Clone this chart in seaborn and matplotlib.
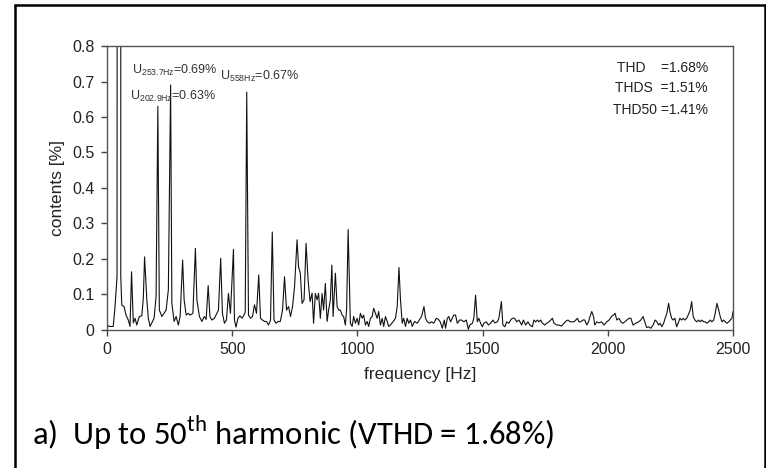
import matplotlib
matplotlib.use("Agg")
import matplotlib.pyplot as plt
import seaborn as sns
import pandas as pd
from matplotlib.lines import Line2D

# -------- DATA --------
freq_hz = [
    0, 8, 18, 25, 32, 40, 45, 50, 55, 59, 68, 76, 85, 92, 98, 105, 112, 119, 129, 139,
    145, 150, 159, 165, 172, 179, 188, 196, 203, 209, 219, 228, 236, 245, 254, 259, 268, 276, 285, 292,
    302, 308, 316, 325, 332, 343, 353, 359, 369, 379, 388, 396, 404, 411, 419, 429, 439, 445, 454, 461,
    469, 477, 485, 493, 505, 509, 515, 523, 531, 539, 547, 552, 558, 565, 573, 581, 589, 597, 606, 613,
    621, 629, 637, 645, 653, 660, 667, 675, 683, 692, 701, 709, 717, 725, 733, 741, 749, 759, 765, 772,
    779, 787, 795, 803, 811, 819, 825, 832, 839, 845, 852, 859, 865, 872, 879, 885, 892, 898, 903, 912,
    919, 925, 932, 939, 945, 952, 957, 963, 972, 979, 985, 992, 999, 1005, 1012, 1019, 1025, 1032, 1039, 1045,
    1052, 1059, 1065, 1072, 1079, 1085, 1092, 1099, 1105, 1112, 1119, 1125, 1132, 1143, 1152, 1159, 1166, 1172, 1179, 1185,
    1192, 1199, 1205, 1212, 1219, 1228, 1239, 1247, 1256, 1266, 1272, 1279, 1288, 1296, 1305, 1315, 1323, 1331, 1339, 1347,
    1352, 1359, 1365, 1372, 1379, 1385, 1392, 1399, 1408, 1416, 1425, 1435, 1443, 1449, 1459, 1465, 1472, 1479, 1485, 1492,
    1499, 1505, 1515, 1523, 1532, 1541, 1549, 1559, 1565, 1575, 1581, 1589, 1596, 1605, 1612, 1619, 1628, 1636, 1645, 1656,
    1663, 1672, 1681, 1689, 1699, 1705, 1712, 1719, 1725, 1732, 1739, 1748, 1756, 1765, 1772, 1779, 1785, 1796, 1805, 1815,
    1825, 1835, 1841, 1849, 1859, 1865, 1872, 1879, 1885, 1892, 1900, 1908, 1916, 1923, 1929, 1936, 1943, 1948, 1956, 1965,
    1975, 1985, 1996, 2005, 2015, 2023, 2029, 2036, 2045, 2052, 2060, 2068, 2076, 2085, 2092, 2101, 2112, 2123, 2132, 2141,
    2148, 2155, 2163, 2172, 2181, 2189, 2196, 2203, 2209, 2216, 2223, 2229, 2236, 2243, 2248, 2255, 2261, 2268, 2275, 2281,
    2288, 2295, 2301, 2308, 2315, 2321, 2329, 2335, 2341, 2348, 2355, 2363, 2369, 2376, 2383, 2389, 2396, 2403, 2409, 2416,
    2423, 2429, 2436, 2443, 2449, 2456, 2463, 2469, 2476, 2483, 2489, 2496, 2500,
]
contents_pct = [
    0.015, 0.01, 0.01, 0.01, 0.066, 0.15, 8.0, 100.0, 0.15, 0.07, 0.066, 0.042, 0.028, 0.01, 0.164, 0.02, 0.033, 0.014, 0.038, 0.04,
    0.09, 0.206, 0.085, 0.033, 0.01, 0.02, 0.033, 0.094, 0.63, 0.056, 0.038, 0.047, 0.056, 0.113, 0.69, 0.075, 0.024, 0.038, 0.014, 0.038,
    0.197, 0.085, 0.042, 0.047, 0.042, 0.047, 0.23, 0.085, 0.038, 0.024, 0.038, 0.03, 0.125, 0.038, 0.028, 0.033, 0.047, 0.056, 0.202, 0.047,
    0.019, 0.028, 0.103, 0.047, 0.227, 0.028, 0.008, 0.033, 0.04, 0.033, 0.042, 0.05, 0.67, 0.042, 0.033, 0.038, 0.071, 0.047, 0.155, 0.033,
    0.028, 0.024, 0.024, 0.014, 0.028, 0.276, 0.028, 0.019, 0.024, 0.024, 0.056, 0.15, 0.056, 0.066, 0.038, 0.066, 0.122, 0.254, 0.178, 0.16,
    0.075, 0.085, 0.244, 0.141, 0.08, 0.104, 0.019, 0.103, 0.085, 0.103, 0.033, 0.103, 0.056, 0.131, 0.024, 0.056, 0.085, 0.183, 0.038, 0.16,
    0.066, 0.056, 0.056, 0.042, 0.038, 0.014, 0.06, 0.283, 0.019, 0.01, 0.038, 0.019, 0.033, 0.014, 0.047, 0.033, 0.042, 0.014, 0.024, 0.01,
    0.033, 0.038, 0.061, 0.047, 0.033, 0.052, 0.014, 0.033, 0.01, 0.038, 0.024, 0.01, 0.014, 0.024, 0.033, 0.066, 0.176, 0.085, 0.019, 0.033,
    0.01, 0.033, 0.019, 0.028, 0.01, 0.024, 0.019, 0.028, 0.038, 0.066, 0.033, 0.023, 0.019, 0.023, 0.019, 0.033, 0.03, 0.023, 0.005, 0.028,
    0.005, 0.033, 0.038, 0.023, 0.033, 0.042, 0.042, 0.019, 0.028, 0.028, 0.023, 0.028, 0.002, 0.014, 0.019, 0.033, 0.098, 0.023, 0.033, 0.019,
    0.009, 0.019, 0.023, 0.014, 0.019, 0.028, 0.02, 0.023, 0.033, 0.08, 0.014, 0.009, 0.023, 0.019, 0.028, 0.033, 0.033, 0.023, 0.028, 0.014,
    0.028, 0.014, 0.023, 0.014, 0.009, 0.028, 0.023, 0.028, 0.023, 0.028, 0.019, 0.014, 0.019, 0.023, 0.028, 0.033, 0.019, 0.014, 0.014, 0.011,
    0.019, 0.026, 0.028, 0.023, 0.023, 0.023, 0.028, 0.033, 0.023, 0.023, 0.028, 0.028, 0.014, 0.023, 0.038, 0.052, 0.038, 0.014, 0.023, 0.02,
    0.023, 0.014, 0.023, 0.028, 0.038, 0.042, 0.047, 0.028, 0.033, 0.023, 0.019, 0.023, 0.028, 0.033, 0.033, 0.014, 0.019, 0.023, 0.028, 0.038,
    0.023, 0.007, 0.009, 0.005, 0.014, 0.028, 0.023, 0.014, 0.019, 0.009, 0.019, 0.033, 0.047, 0.075, 0.052, 0.033, 0.028, 0.033, 0.009, 0.019,
    0.033, 0.028, 0.033, 0.028, 0.033, 0.042, 0.056, 0.08, 0.038, 0.028, 0.023, 0.028, 0.023, 0.028, 0.023, 0.023, 0.019, 0.023, 0.028, 0.023,
    0.028, 0.047, 0.075, 0.056, 0.038, 0.023, 0.028, 0.023, 0.019, 0.023, 0.028, 0.033, 0.052,
]

x_ticks = [0, 500, 1000, 1500, 2000, 2500]
y_ticks = [0, 0.1, 0.2, 0.3, 0.4, 0.5, 0.6, 0.7, 0.8]
y_tick_labels = ["0", "0.1", "0.2", "0.3", "0.4", "0.5", "0.6", "0.7", "0.8"]

# peak annotations: (text, x in Hz, y in %)
peak_labels = [
    (r"U$_{\mathregular{253.7Hz}}$=0.69%", 100, 0.732),
    (r"U$_{\mathregular{202.9Hz}}$=0.63%", 92, 0.659),
    (r"U$_{\mathregular{558Hz}}$=0.67%", 452, 0.713),
]
thd_labels = ["THD    =1.68%", "THDS  =1.51%", "THD50 =1.41%"]
thd_y = [0.738, 0.682, 0.62]

caption = r"a)  Up to 50$^{\mathregular{th}}$ harmonic (VTHD = 1.68%)"

df = pd.DataFrame({"frequency": freq_hz, "contents": contents_pct})

# -------- PLOT --------
sns.set_style("ticks")
plt.rcParams["font.family"] = ["Liberation Sans", "DejaVu Sans"]

fig = plt.figure(figsize=(7.66, 4.68), dpi=100)
ax = fig.add_axes([0.1397, 0.2949, 0.8172, 0.6068])

sns.lineplot(data=df, x="frequency", y="contents", estimator=None, sort=False,
             color="#111111", linewidth=0.8, ax=ax)

ax.set_xlim(0, 2500)
ax.set_ylim(0, 0.8)
ax.set_xticks(x_ticks)
ax.set_yticks(y_ticks)
ax.set_yticklabels(y_tick_labels)
ax.tick_params(direction="out", length=4.5, width=1, color="#444444",
               labelsize=11.5, labelcolor="#222222", pad=4.5)
for sp in ax.spines.values():
    sp.set_color("#555555")
    sp.set_linewidth(1.0)

ax.set_xlabel("frequency [Hz]", fontsize=12.5, color="#222222", labelpad=7)
ax.set_ylabel("contents [%]", fontsize=12.5, color="#222222", labelpad=5)

for txt, xx, yy in peak_labels:
    ax.text(xx, yy, txt, fontsize=9, color="#333333", ha="left", va="center")

for txt, yy in zip(thd_labels, thd_y):
    ax.text(2400, yy, txt, fontsize=10, color="#222222", ha="right", va="center")

fig.text(32 / 766, 1 - 433 / 468, caption, fontsize=23.5, color="black",
         family=["Carlito", "Lato", "DejaVu Sans"], ha="left", va="center")

# outer frame (no bottom edge, as in the reference)
top = 1 - 5 / 468
for xs, ys in [([15 / 766, 15 / 766], [0, top]),
               ([15 / 766, 765 / 766], [top, top]),
               ([765 / 766, 765 / 766], [top, 0])]:
    fig.add_artist(Line2D(xs, ys, transform=fig.transFigure, color="black", linewidth=1.8))

fig.savefig("out.png", dpi=100)
